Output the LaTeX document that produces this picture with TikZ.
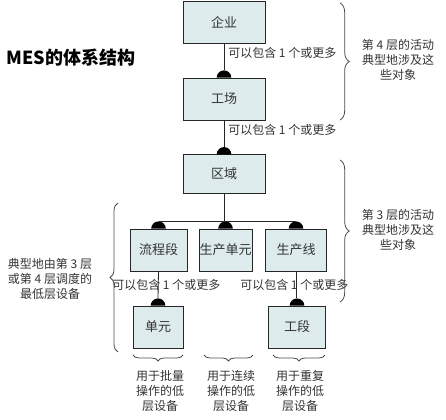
\documentclass[tikz,border=0pt]{standalone}
\usepackage{fontspec}
\setmainfont{Noto Sans CJK SC}
\usepackage{xcolor}
\usepackage{tikz}
\usetikzlibrary{decorations.pathreplacing}
\definecolor{boxfill}{HTML}{DDEBEC}
\definecolor{ink}{HTML}{333333}

\begin{document}
\begin{tikzpicture}[x=0.75pt,y=-0.75pt,
  unit/.style={draw=black!85,fill=boxfill,minimum height=31.5pt,inner sep=0pt,
    font=\fontsize{9.75}{11}\selectfont,text=ink},
  link/.style={draw=black!85,line width=0.6pt},
  many/.style={anchor=west,inner sep=0pt,font=\fontsize{9}{11}\selectfont,text=ink},
  note/.style={align=center,inner sep=0pt,font=\fontsize{9}{11.4}\selectfont,text=ink},
  brace/.style={decorate,decoration={brace,amplitude=#1},draw=black!70,line width=0.6pt}
]
  \useasboundingbox (0,0) rectangle (446,420);

  % Title
  \node[font=\fontsize{13.5}{15}\selectfont\bfseries] (title) at (71,58) {MES的体系结构};

  % Nodes
  \node[unit,minimum width=61.5pt] (qy)   at (224,22)    {企业};
  \node[unit,minimum width=61.5pt] (gc)   at (224,99)    {工场};
  \node[unit,minimum width=61.5pt,minimum height=29pt] (qu) at (224,174) {区域};
  \node[unit,minimum width=42.75pt] (lcd) at (158.5,250) {流程段};
  \node[unit,minimum width=39.75pt] (scdy) at (225.5,250) {生产单元};
  \node[unit,minimum width=45.75pt] (scx) at (296,250)   {生产线};
  \node[unit,minimum width=37.5pt]  (dy)  at (158,327)   {单元};
  \node[unit,minimum width=42.75pt] (gd)  at (297,327)   {工段};

  % Half discs on the contained objects
  \foreach \b in {gc,qu,lcd,scdy,scx,dy,gd} {
    \fill[black] (\b.north) ++(-5.5pt,0) arc[start angle=180,end angle=0,radius=5.5pt] -- cycle;
    \coordinate (\b T) at ([yshift=5.5pt]\b.north);
  }

  % Connectors
  \draw[link] (qy.south) -- (gcT);
  \draw[link] (gc.south) -- (quT);
  \draw[link] (lcdT) -- (scxT);
  \draw[link] (qu.south) -- (qu.south |- lcdT);
  \draw[link] (lcd.south) -- (dyT);
  \draw[link] (scx.south) -- (scx.south |- gdT);

  % Multiplicity labels
  \node[many] (m1) at (228,53)  {可以包含 1 个或更多};
  \node[many] (m2) at (228,130) {可以包含 1 个或更多};
  \node[many] (m3) at (112,285) {可以包含 1 个或更多};
  \node[many] (m4) at (240,285) {可以包含 1 个或更多};

  % Level braces
  \draw[brace=7pt] (340,3) -- (340,120);
  \draw[brace=7pt] (340,160) -- (340,302);
  \draw[brace=6pt] (118,352) -- (118,203);
  \node[note] (l4) at (398,60)  {第 4 层的活动\\典型地涉及这\\些对象};
  \node[note] (l3) at (398,230) {第 3 层的活动\\典型地涉及这\\些对象};
  \node[note] (low) at (50,279) {典型地由第 3 层\\或第 4 层调度的\\最低层设备};

  % Equipment braces
  \draw[brace=4.5pt] (183,355) -- (133,355);
  \draw[brace=4.5pt] (253,355) -- (204,355);
  \draw[brace=4.5pt] (325,355) -- (273,355);
  \node[note] (b1) at (160,391) {用于批量\\操作的低\\层设备};
  \node[note] (b2) at (231,391) {用于连续\\操作的低\\层设备};
  \node[note] (b3) at (300,391) {用于重复\\操作的低\\层设备};
\end{tikzpicture}
\end{document}
